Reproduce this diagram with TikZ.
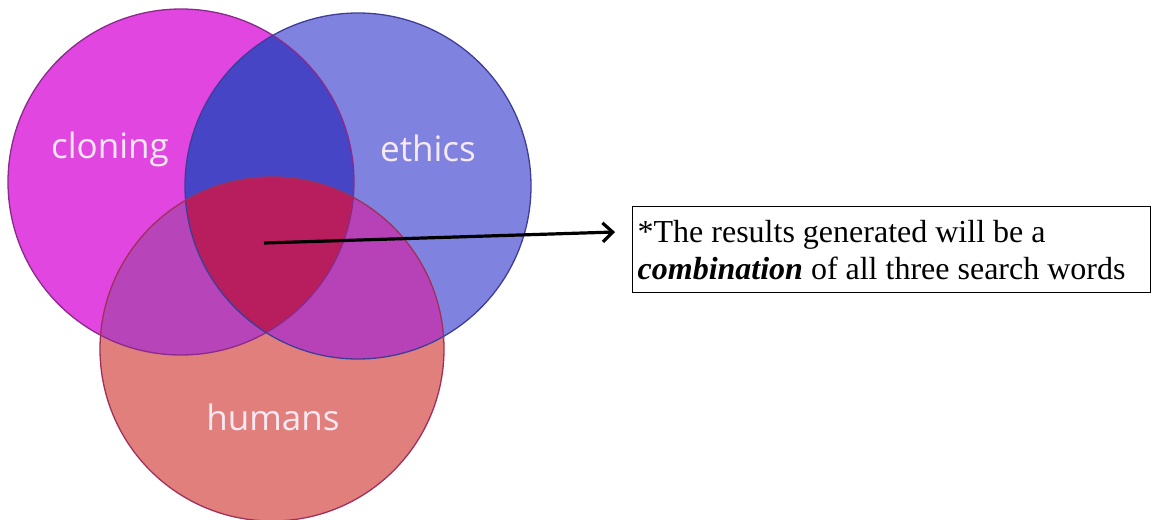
\documentclass[tikz,border=0pt]{standalone}
\usepackage{fontspec}
\setmainfont{Liberation Serif}
\newfontfamily\vennfont{Open Sans}
\usetikzlibrary{arrows.meta,positioning}

\definecolor{cloningfill}{HTML}{E146E1}
\definecolor{ethicsfill}{HTML}{7F83DF}
\definecolor{humansfill}{HTML}{E07F7C}
\definecolor{cefill}{HTML}{4545C6}
\definecolor{chfill}{HTML}{B744B8}
\definecolor{ehfill}{HTML}{B742B8}
\definecolor{allfill}{HTML}{B81D5D}
\definecolor{cloningedge}{HTML}{8C2A8C}
\definecolor{ethicsedge}{HTML}{3E3E98}
\definecolor{humansedge}{HTML}{A0305A}
\definecolor{labeltext}{HTML}{F7E9F4}

\newcommand{\cloningset}{(181,182) circle (173pt)}
\newcommand{\ethicsset}{(358,186) circle (173pt)}
\newcommand{\humansset}{(272,349) circle (172pt)}

\begin{document}
\begin{tikzpicture}
[x=1pt,y=-1pt,
 setlabel/.style={text=labeltext,font=\vennfont\fontsize{35}{35}\selectfont,anchor=base},
 ring/.style={line width=1.3pt},
 pointer/.style={line width=3.2pt,-{Straight Barb[length=10pt,width=19pt]}},
 notebox/.style={draw,line width=1.3pt,anchor=north west,minimum width=518pt,
   minimum height=86pt,text width=508pt,inner sep=5pt,align=flush left,
   font=\fontsize{32}{37}\selectfont}]
\useasboundingbox (0,0) rectangle (1155,519);

% whole sets
\fill[cloningfill] \cloningset;
\fill[ethicsfill] \ethicsset;
\fill[humansfill] \humansset;

% overlaps
\begin{scope}
\clip \cloningset;
\fill[cefill] \ethicsset;
\fill[chfill] \humansset;
\end{scope}
\begin{scope}
\clip \ethicsset;
\fill[ehfill] \humansset;
\clip \cloningset;
\fill[allfill] \humansset;
\end{scope}

% outlines
\draw[ring,cloningedge] \cloningset;
\draw[ring,ethicsedge] \ethicsset;
\draw[ring,humansedge] \humansset;

\node[setlabel] (cloninglabel) at (110,158) {cloning};
\node[setlabel] (ethicslabel) at (428,161) {ethics};
\node[setlabel] (humanslabel) at (273,430) {humans};

\coordinate (core) at (264,243);
\coordinate (tip) at (615,232);
\draw[pointer] (core) -- (tip);

\node[notebox] (note) at (632,206)
{*The results generated will be a\\
\textbf{\textit{combination}} of all three search words};
\end{tikzpicture}
\end{document}
